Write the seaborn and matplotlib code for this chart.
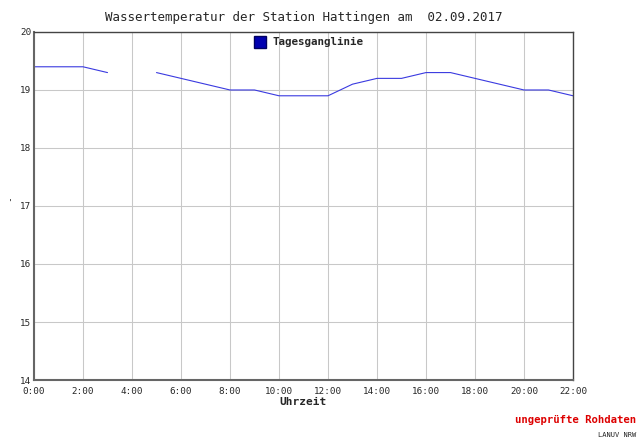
import numpy as np
import pandas as pd
import matplotlib
matplotlib.use('Agg')
import matplotlib.pyplot as plt
import seaborn as sns
from matplotlib.lines import Line2D

# hourly water temperature, 4:00 is missing
hours = list(range(0, 23))
temps = [19.4, 19.4, 19.4, 19.3, np.nan, 19.3, 19.2, 19.1, 19.0, 19.0, 18.9, 18.9,
         18.9, 19.1, 19.2, 19.2, 19.3, 19.3, 19.2, 19.1, 19.0, 19.0, 18.9]
tick_hours = list(range(0, 23, 2))
tick_labels = [f'{h}:00' for h in tick_hours]
y_ticks = [14, 15, 16, 17, 18, 19, 20]

df = pd.DataFrame({'hour': hours, 'temp': temps})
df['seg'] = df['temp'].isna().cumsum()
df = df.dropna()

sns.set_style('white')
plt.rcParams['font.family'] = ['DejaVu Sans Mono', 'DejaVu Sans']

fig = plt.figure(figsize=(6.38, 4.38), dpi=100)
ax = fig.add_axes([0.0533, 0.1324, 0.8448, 0.7946])

sns.lineplot(data=df, x='hour', y='temp', units='seg', estimator=None,
             color='#3a3ae0', linewidth=0.8, ax=ax, legend=False)

ax.set_xlim(0, 22)
ax.set_ylim(14, 20)
ax.set_xticks(tick_hours)
ax.set_xticklabels(tick_labels, fontsize=6.7)
ax.set_yticks(y_ticks)
ax.set_yticklabels([str(v) for v in y_ticks], fontsize=6.7)
ax.grid(True, color='#c8c8c8', linewidth=0.75)
ax.tick_params(axis='both', direction='in', length=3, width=1, color='#333333', pad=2)
ax.tick_params(axis='x', pad=5)
for side in ['left', 'bottom']:
    ax.spines[side].set_color('#666666')
    ax.spines[side].set_linewidth(1.5)
for side in ['top', 'right']:
    ax.spines[side].set_color('#444444')
    ax.spines[side].set_linewidth(1.0)
    ax.spines[side].set_visible(True)

ax.set_xlabel('Uhrzeit', fontsize=8, fontweight='bold', labelpad=1)
ax.set_ylabel('')

handle = Line2D([], [], linestyle='none', marker='s', markersize=8,
                markerfacecolor='#0000b0', markeredgecolor='#000060')
ax.legend([handle], ['Tagesganglinie'], loc='upper center', frameon=False,
          prop={'weight': 'bold', 'size': 7.8}, handletextpad=0.1,
          borderaxespad=0.1, bbox_to_anchor=(0.505, 1.0))

fig.text(0.5 * (0.0533 + 0.898), 0.961, 'Wassertemperatur der Station Hattingen am  02.09.2017',
         ha='center', va='center', fontsize=9)
fig.text(10 / 638, 1 - 203 / 438, "'", ha='center', va='center', fontsize=6)
fig.text(0.997, 1 - 420 / 438, 'ungeprüfte Rohdaten', ha='right', va='center',
         fontsize=7.7, fontweight='bold', color='#dd0000')
fig.text(598 / 638, 1 - 435 / 438, 'LANUV NRW', ha='left', va='center',
         fontsize=5, color='#222222')

fig.savefig('out.png', dpi=100)
